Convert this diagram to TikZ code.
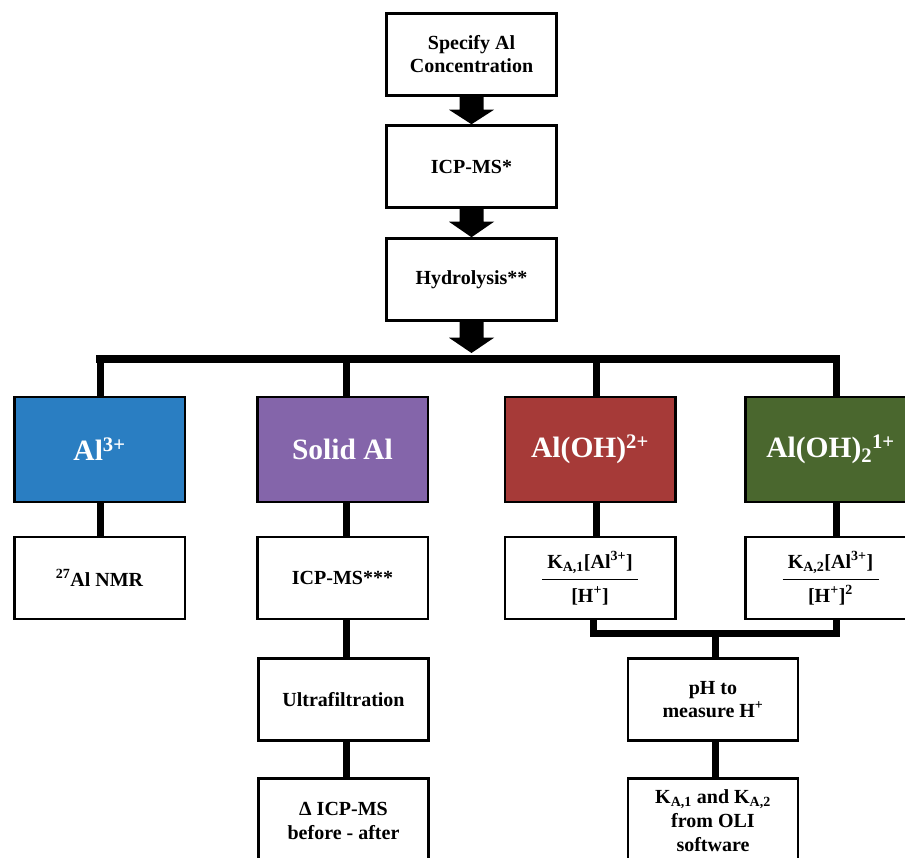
\documentclass[tikz,border=0pt]{standalone}
\usepackage{fontspec}
\setmainfont{Liberation Serif}
\usetikzlibrary{calc,backgrounds}
\definecolor{cblue}{RGB}{42,126,194}
\definecolor{cpurple}{RGB}{132,101,170}
\definecolor{cred}{RGB}{166,58,56}
\definecolor{cgreen}{RGB}{74,103,46}
\begin{document}
\begin{tikzpicture}[x=1pt,y=-1pt,
  box/.style={draw=black, line width=2.5pt, fill=white, minimum width=170pt, minimum height=82pt, inner sep=0pt, align=center, font=\bfseries\fontsize{20}{23}\selectfont},
  cbox/.style={draw=black, line width=2.5pt, minimum width=170.5pt, minimum height=104.5pt, inner sep=0pt, text=white, font=\bfseries\fontsize{29.5}{33}\selectfont},
  conn/.style={line width=7pt, line join=miter},
  barline/.style={line width=7.5pt, line join=miter, line cap=rect}]
\useasboundingbox (0,0) rectangle (905,858);
\clip (0,0) rectangle (905,858);

% top chain
\node[box] (spec) at (471.5,54.5) {Specify Al\\Concentration};
\node[box] (icp)  at (471.5,166.5) {ICP-MS*};
\node[box] (hyd)  at (471.5,279.5) {Hydrolysis**};
\coordinate (bar) at (471.5,359);

% coloured species boxes
\node[cbox, fill=cblue]   (al3)   at (99.5,449.5)  {Al\textsuperscript{3+}};
\node[cbox, fill=cpurple] (solid) at (342.5,449.5) {Solid Al};
\node[cbox, fill=cred]    (aloh)  at (590,449.5)   {Al(OH)\textsuperscript{2+}};
\node[cbox, fill=cgreen]  (aloh2) at (830.5,449.5) {Al(OH)\textsubscript{2}\textsuperscript{1+}};

% column positions of connectors
\coordinate (c1) at (100,0);
\coordinate (c2) at (346,0);
\coordinate (c3) at (596,0);
\coordinate (c4) at (836,0);

% second row
\node[box, minimum width=170.5pt] (nmr)  at (99.5,578)  {\textsuperscript{27}Al NMR};
\node[box, minimum width=170.5pt] (icp3) at (342.5,578) {ICP-MS***};
\node[box, minimum width=170.5pt] (ka1)  at (590,578)
  {K\textsubscript{A,1}[Al\textsuperscript{3+}]\\[-11pt]\rule{96pt}{1.5pt}\\[-1pt]{[}H\textsuperscript{+}{]}};
\node[box, minimum width=170.5pt] (ka2)  at (830.5,578)
  {K\textsubscript{A,2}[Al\textsuperscript{3+}]\\[-11pt]\rule{96pt}{1.5pt}\\[-1pt]{[}H\textsuperscript{+}{]}\textsuperscript{2}};

% third row
\node[box] (ultra) at (343.5,699.5) {Ultrafiltration};
\node[box] (ph)    at (713,699.5)   {pH to\\measure H\textsuperscript{+}};

% fourth row
\node[box, minimum height=85.5pt, font=\bfseries\fontsize{20}{24}\selectfont] (delta) at (343.5,821) {Δ ICP-MS\\before - after};
\node[box, minimum height=85.5pt, font=\bfseries\fontsize{20}{24}\selectfont] (kaoli) at (713,821)
  {K\textsubscript{A,1} and K\textsubscript{A,2}\\from OLI\\software};

\begin{pgfonlayer}{background}
  \fill[white] (0,0) rectangle (905,858);
  % block arrows
  \fill ($(spec.south)+(-12,0)$) -- ($(spec.south)+(-12,13)$) -- ($(spec.south)+(-22.5,13)$)
     -- (icp.north) -- ($(spec.south)+(22.5,13)$) -- ($(spec.south)+(12,13)$) -- ($(spec.south)+(12,0)$) -- cycle;
  \fill ($(icp.south)+(-12,0)$) -- ($(icp.south)+(-12,13)$) -- ($(icp.south)+(-22.5,13)$)
     -- (hyd.north) -- ($(icp.south)+(22.5,13)$) -- ($(icp.south)+(12,13)$) -- ($(icp.south)+(12,0)$) -- cycle;
  \fill ($(hyd.south)+(-12,0)$) -- ($(hyd.south)+(-12,16)$) -- ($(hyd.south)+(-22.5,16)$)
     -- ($(bar)+(0,-6)$) -- ($(hyd.south)+(22.5,16)$) -- ($(hyd.south)+(12,16)$) -- ($(hyd.south)+(12,0)$) -- cycle;
  % distribution bar
  \draw[barline] (c1 |- bar) -- (c4 |- bar);
  \draw[conn] (c1 |- bar) -- (c1 |- al3.north);
  \draw[conn] (c2 |- bar) -- (c2 |- solid.north);
  \draw[conn] (c3 |- bar) -- (c3 |- aloh.north);
  \draw[conn] (c4 |- bar) -- (c4 |- aloh2.north);
  % species to methods
  \draw[conn] (c1 |- al3.south) -- (c1 |- nmr.north);
  \draw[conn] (c2 |- solid.south) -- (c2 |- icp3.north);
  \draw[conn] (c3 |- aloh.south) -- (c3 |- ka1.north);
  \draw[conn] (c4 |- aloh2.south) -- (c4 |- ka2.north);
  \draw[conn] (c2 |- icp3.south) -- (c2 |- ultra.north);
  \draw[conn] (c2 |- ultra.south) -- (c2 |- delta.north);
  % bracket joining the two K boxes
  \coordinate (brk) at (715,633.5);
  \draw[conn] ([xshift=3.5pt]ka1.south) |- (brk) -| ([xshift=6pt]ka2.south);
  \draw[conn] (brk) -- (brk |- ph.north);
  \draw[conn] (brk |- ph.south) -- (brk |- kaoli.north);
\end{pgfonlayer}
\end{tikzpicture}
\end{document}
